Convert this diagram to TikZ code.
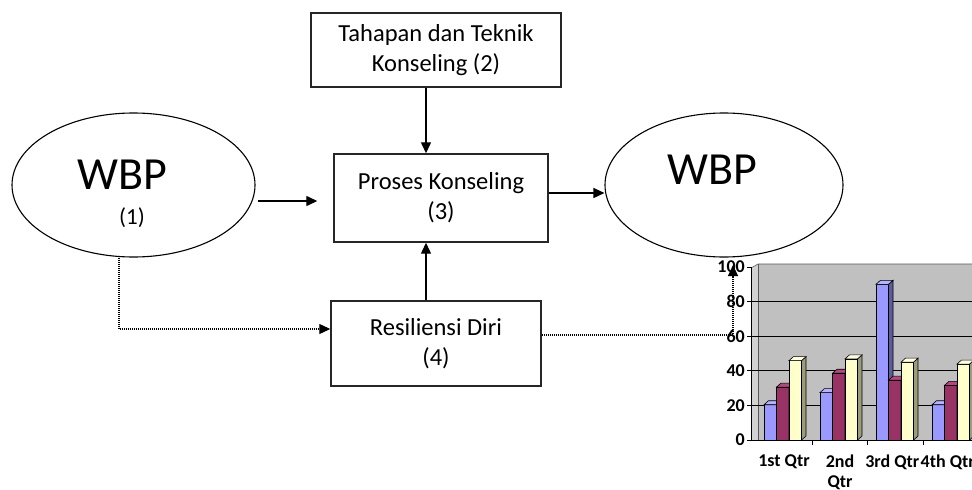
\documentclass[tikz,border=0pt]{standalone}
\usepackage{fontspec}
\setmainfont{Carlito}
\usetikzlibrary{arrows.meta,shapes.geometric}

\definecolor{barblue}{HTML}{9999FF}
\definecolor{barblueside}{HTML}{5C5C9E}
\definecolor{barbluetop}{HTML}{B3B3FF}
\definecolor{barred}{HTML}{993366}
\definecolor{barredside}{HTML}{6A2346}
\definecolor{barredtop}{HTML}{B04A7E}
\definecolor{baryel}{HTML}{FFFFCC}
\definecolor{baryelside}{HTML}{9C9C7C}
\definecolor{baryeltop}{HTML}{FFFFE3}
\definecolor{wallgray}{HTML}{C0C0C0}
\definecolor{wallside}{HTML}{D2D2D2}

\newcommand{\chartbar}[3]{%
  \pgfmathsetmacro\ytop{440-1.73*#2}%
  \filldraw[fill=#3, line width=0.6pt] (#1,440) rectangle (#1+12.5,\ytop);
  \filldraw[fill=#3side, line width=0.6pt] (#1+12.5,440) -- (#1+17,436) -- (#1+17,\ytop-4) -- (#1+12.5,\ytop) -- cycle;
  \filldraw[fill=#3top, line width=0.6pt] (#1,\ytop) -- (#1+4.5,\ytop-4) -- (#1+17,\ytop-4) -- (#1+12.5,\ytop) -- cycle;
}

\tikzset{
  box/.style={draw, draw=black!85, line width=1.4pt, align=center, inner sep=0pt,
    font=\fontsize{24.5}{30}\selectfont},
  oval/.style={draw, ellipse, line width=1.1pt, inner sep=0pt},
  big/.style={font=\fontsize{46}{50}\selectfont, inner sep=0pt},
  small/.style={font=\fontsize{23}{26}\selectfont, inner sep=0pt},
  arr/.style={line width=1.3pt, -{Triangle[length=11pt,width=10pt]}},
  dotarr/.style={line width=1.1pt, dash pattern=on 1pt off 1pt, -{Triangle[length=11pt,width=10pt]}},
  axlab/.style={font=\fontsize{18}{20}\selectfont\bfseries, inner sep=0pt},
}

\begin{document}
\begin{tikzpicture}[x=1pt,y=-1pt]
\useasboundingbox (0,0) rectangle (972,490);

% ---------- chart ----------
\begin{scope}
\clip (690,250) rectangle (972,490);
\fill[wallside] (751,268) -- (758,264) -- (758,440) -- (751,440) -- cycle;
\fill[wallgray] (758,264) rectangle (980,440);
\draw[gray!70!black, line width=0.6pt] (751,268) -- (758,264) -- (980,264);
\draw[gray!70!black, line width=0.6pt] (758,264) -- (758,440);
\foreach \v in {20,40,60,80} {
  \draw[line width=1pt] (747,440-1.73*\v) -- (980,440-1.73*\v);
}
\draw[line width=1pt] (747,267) -- (751,267);
\foreach \v in {0,20,40,60,80,100} {
  \node[axlab, anchor=east] (yl\v) at (745,440-1.73*\v) {\v};
}
\chartbar{764}{20.4}{barblue}
\chartbar{776.5}{30.6}{barred}
\chartbar{789}{45.9}{baryel}
\chartbar{820}{27.4}{barblue}
\chartbar{832.5}{38.6}{barred}
\chartbar{845}{46.9}{baryel}
\chartbar{876}{90}{barblue}
\chartbar{888.5}{34.6}{barred}
\chartbar{901}{45}{baryel}
\chartbar{932}{20.4}{barblue}
\chartbar{944.5}{31.6}{barred}
\chartbar{957}{43.9}{baryel}
\draw[line width=1pt] (751,267) -- (751,440) -- (980,440);
\draw[line width=1pt] (747,440) -- (751,440);
\foreach \x in {812,867,923} { \draw[line width=1pt] (\x,440) -- (\x,445); }
\node[axlab] (c1) at (784,462) {1st Qtr};
\node[axlab, align=center] (c2) at (840,472) {2nd\\Qtr};
\node[axlab, anchor=east] (c3) at (919.5,462) {3rd Qtr};
\node[axlab, anchor=west] (c4) at (920.5,462) {4th Qtr};
\end{scope}

% ---------- diagram ----------
\node[box, minimum width=250pt, minimum height=74pt] (tah) at (436,50) {Tahapan dan Teknik\\Konseling (2)};
\node[box, minimum width=214pt, minimum height=88pt] (pro) at (441,198) {Proses Konseling\\(3)};
\node[box, minimum width=210pt, minimum height=85pt] (res) at (436,343.5) {Resiliensi Diri\\(4)};

\node[oval, minimum width=243pt, minimum height=144pt] (w1) at (133.5,185) {};
\node[big] (w1t) at (122,175) {WBP};
\node[small] (w1n) at (132,218) {(1)};

\node[oval, minimum width=238pt, minimum height=144pt] (w2) at (724,185) {};
\node[big] (w2t) at (712,170) {WBP};

\coordinate (c100) at (733,265);

\draw[arr] ([shift={(-10,0)}]tah.south) -- ([shift={(-15,0)}]pro.north);
\draw[arr] ([shift={(-10,0)}]res.north) -- ([shift={(-15,0)}]pro.south);
\draw[arr] ([shift={(2,16)}]w1.east) -- ([shift={(-16,3)}]pro.west);
\draw[arr] ([shift={(0,-5)}]pro.east) -- ([shift={(0,8)}]w2.west);
\draw[dotarr] ([shift={(-14.5,0)}]w1.south) |- ([shift={(0,-14.5)}]res.west);
\draw[dotarr] ([shift={(0,-8.5)}]res.east) -| (c100);
\end{tikzpicture}
\end{document}
